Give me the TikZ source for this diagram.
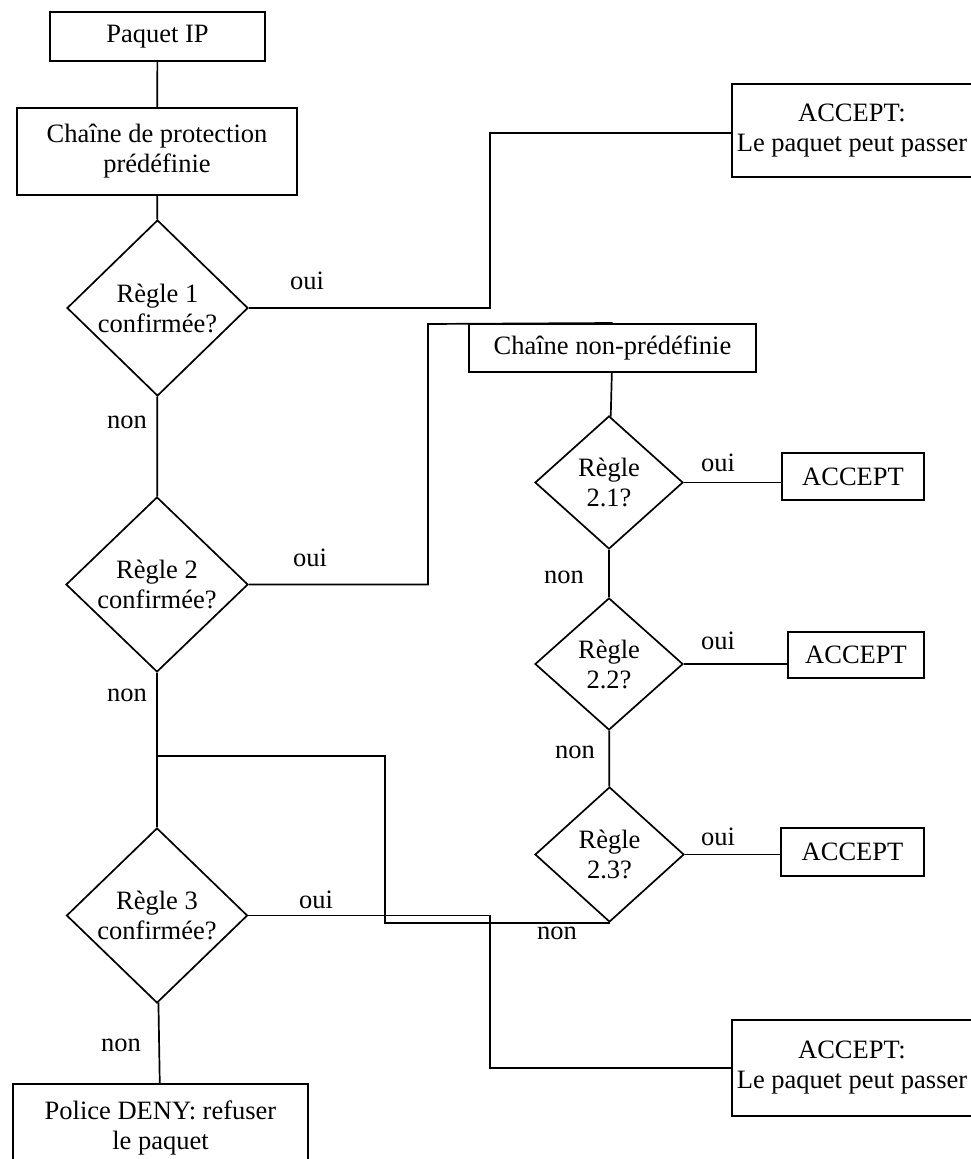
\documentclass[tikz,border=0pt]{standalone}
\usepackage{fontspec}
\setmainfont{Liberation Serif}
\usetikzlibrary{shapes.geometric}

\tikzset{
  boite/.style={draw, line width=2pt, inner sep=0pt, align=center},
  regle/.style={draw, diamond, line width=1.7pt, inner sep=0pt, align=center},
  lien/.style={line width=1.7pt},
  every node/.style={font=\fontsize{26.5}{30}\selectfont}
}

\begin{document}
\begin{tikzpicture} [x=1pt,y=-1pt]

\useasboundingbox (0,0) rectangle (970,1159);
%\draw [step=100, dotted] (0,0) grid (970,1159);

\node [boite, minimum width=215, minimum height=49] (pip) at (157.5,36.5) {Paquet IP};
\node [boite, minimum width=280, minimum height=87] (cpp) at (157,151.5) {Chaîne de protection\\prédéfinie};
\node [regle, minimum width=181, minimum height=176] (r1) at (157.5,308) {Règle 1\\confirmée?};
\node [regle, minimum width=182, minimum height=175] (r2) at (157,584.5) {Règle 2\\confirmée?};
\node [regle, minimum width=181, minimum height=175] (r3) at (157,915.5) {Règle 3\\confirmée?};
\node [boite, minimum width=295, minimum height=87] (deny) at (160.5,1127.5) {Police DENY: refuser\\le paquet};

\node [boite, minimum width=240, minimum height=93] (acchaut) at (852,130.5) {ACCEPT:\\Le paquet peut passer};
\node [boite, minimum width=240, minimum height=96] (accbas) at (852,1068) {ACCEPT:\\Le paquet peut passer};

\node [boite, minimum width=287, minimum height=48] (cnp) at (612.5,348) {Chaîne non-prédéfinie};
\node [regle, minimum width=148, minimum height=133] (r21) at (609,482.5) {Règle\\2.1?};
\node [regle, minimum width=148, minimum height=132] (r22) at (609,664) {Règle\\2.2?};
\node [regle, minimum width=149, minimum height=135] (r23) at (609.5,854.5) {Règle\\2.3?};
\node [boite, minimum width=142, minimum height=47] (acc1) at (853,476.5) {ACCEPT};
\node [boite, minimum width=136, minimum height=46] (acc2) at (856,655) {ACCEPT};
\node [boite, minimum width=143, minimum height=48] (acc3) at (852.5,852) {ACCEPT};

\node (oui1) at (307,281) {oui};
\node (oui2) at (310,558) {oui};
\node (oui3) at (316,900) {oui};
\node (non1) at (127,422) {non};
\node (non2) at (127,695) {non};
\node (non3) at (121,1045) {non};
\node (oui21) at (718,463) {oui};
\node (oui22) at (718,641) {oui};
\node (oui23) at (718,837) {oui};
\node (non21) at (564,577) {non};
\node (non22) at (575,752) {non};
\node (non23) at (557,933) {non};

\coordinate (k1) at (490,133);
\coordinate (k2) at (428,324);
\coordinate (k3) at (385,756);
\coordinate (k4) at (490,1068);

\draw [lien] (pip) -- (cpp);
\draw [lien] (cpp) -- (r1);
\draw [lien] (r1) -- (r2);
\draw [lien] (r2) -- (r3);
\draw [lien] (r3) -- (deny);
\draw [lien] (r1.east) -| (k1) -- (k1 -| acchaut.west);
\draw [lien] (r2.east) -| (k2) -- (cnp.north);
\draw [lien] (cnp) -- (r21);
\draw [lien] (r21) -- (r22);
\draw [lien] (r22) -- (r23);
\draw [lien] (r21.east) -- (r21.east -| acc1.west);
\draw [lien] (r22.east) -- (r22.east -| acc2.west);
\draw [lien] (r23.east) -- (r23.east -| acc3.west);
\draw [lien] (r23.south) -| (k3) -- (k3 -| r2.south);
\draw [lien] (r3.east) -| (k4) -- (accbas.west);

\end{tikzpicture}
\end{document}
